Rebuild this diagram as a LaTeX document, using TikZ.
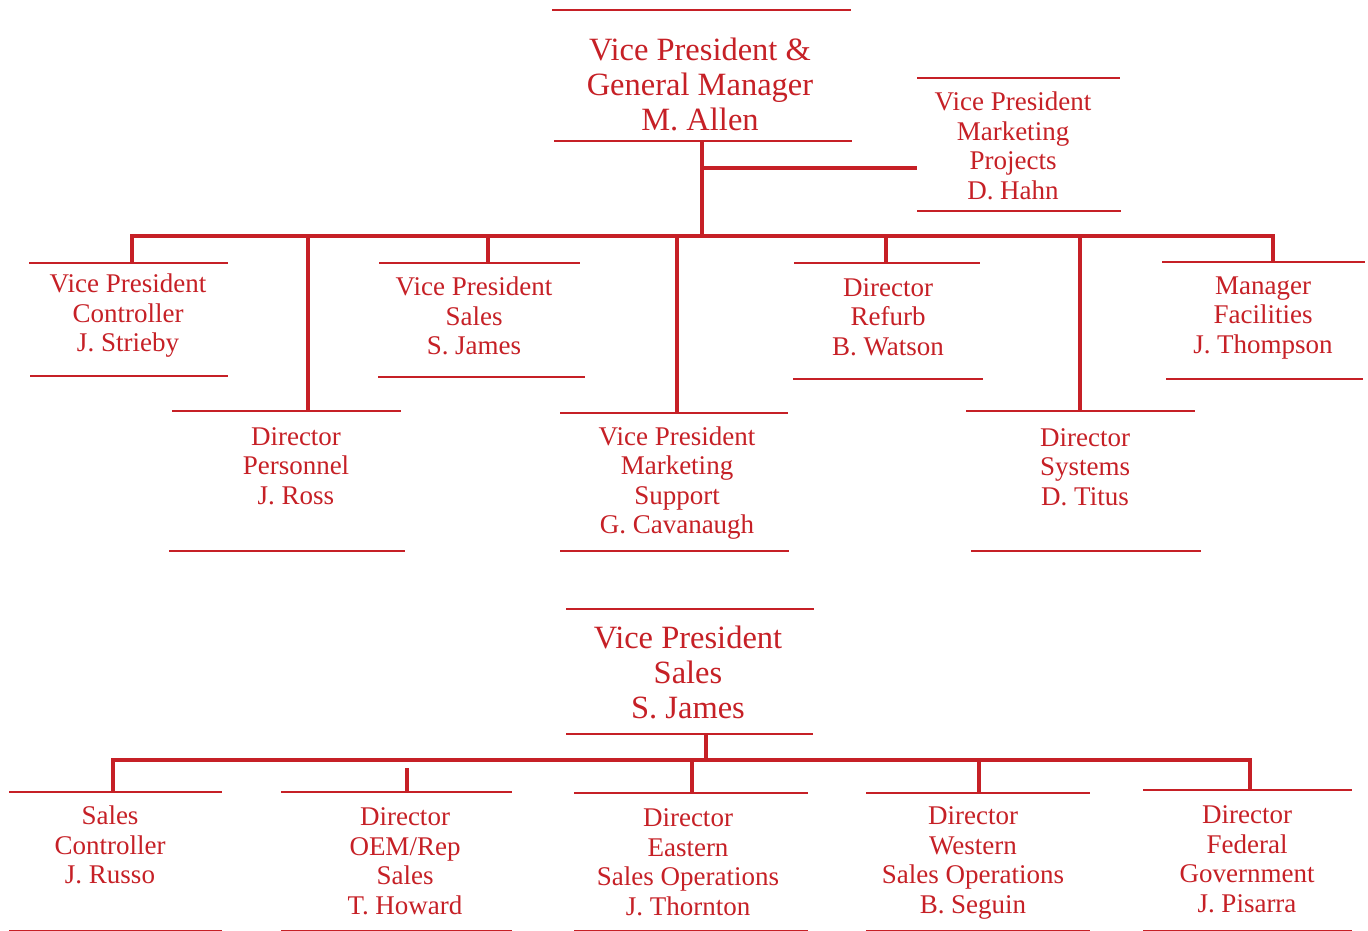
\documentclass[tikz,border=0pt]{standalone}
\usepackage{fontspec}
\setmainfont{Liberation Serif}
\definecolor{inkred}{RGB}{198,32,38}
\begin{document}
\begin{tikzpicture}[x=1pt,y=-1pt,
  rule/.style={draw=inkred, line width=2.6pt},
  conn/.style={draw=inkred, line width=4pt, line join=miter},
  big/.style={align=center, text=inkred, inner sep=0pt, font=\fontsize{32.5}{35}\selectfont},
  lbl/.style={align=center, text=inkred, inner sep=0pt, font=\fontsize{27}{29.5}\selectfont}]
\useasboundingbox (0,0) rectangle (1368,931);
\fill[white] (0,0) rectangle (1368,931);

% ---------- top: General Manager ----------
\draw[rule] (552,10) -- (851,10);
\draw[rule] (554,141) -- (852,141);
\node[big] (gm) at (700,84) {Vice President \&\\General Manager\\M. Allen};
\coordinate (gmB) at (702,141);

% Hahn
\draw[rule] (917,78) -- (1120,78);
\draw[rule] (917,211) -- (1121,211);
\node[lbl] (hahn) at (1013,146) {Vice President\\Marketing\\Projects\\D. Hahn};
\coordinate (hahnL) at (917,168);

% bus
\coordinate (busC) at (702,236);
\coordinate (busL) at (132,236);
\coordinate (busR) at (1273,236);

% row 1 boxes
\draw[rule] (29,263) -- (228,263);  \draw[rule] (30,376) -- (228,376);
\node[lbl] (ctrl) at (128,316) {Vice President\\Controller\\J. Strieby};
\coordinate (ctrlT) at (132,263);

\draw[rule] (172,411) -- (401,411);  \draw[rule] (169,551) -- (405,551);
\node[lbl] (pers) at (296,466) {Director\\Personnel\\J. Ross};
\coordinate (persT) at (308,411);

\draw[rule] (379,263) -- (580,263);  \draw[rule] (378,377) -- (585,377);
\node[lbl] (vps) at (474,316) {Vice President\\Sales\\S. James};
\coordinate (vpsT) at (488,263);

\draw[rule] (560,413) -- (788,413);  \draw[rule] (560,551) -- (789,551);
\node[lbl] (mkt) at (677,483) {Vice President\\Marketing\\Support\\G. Cavanaugh};
\coordinate (mktT) at (677,413);

\draw[rule] (794,263) -- (980,263);  \draw[rule] (793,379) -- (983,379);
\node[lbl] (ref) at (888,317) {Director\\Refurb\\B. Watson};
\coordinate (refT) at (886,263);

\draw[rule] (966,411) -- (1195,411);  \draw[rule] (971,551) -- (1201,551);
\node[lbl] (sys) at (1085,467) {Director\\Systems\\D. Titus};
\coordinate (sysT) at (1080,411);

\draw[rule] (1162,262) -- (1365,262);  \draw[rule] (1166,379) -- (1363,379);
\node[lbl] (fac) at (1263,318) {Manager\\Facilities\\J. Thompson};
\coordinate (facT) at (1273,262);

% connectors top
\draw[conn] (gmB) -- (busC);
\draw[conn] (gmB |- hahnL) -- (hahnL);
\draw[conn] (ctrlT) -- (busL) -- (busR) -- (facT);
\draw[conn] (persT) -- (persT |- busC);
\draw[conn] (vpsT) -- (vpsT |- busC);
\draw[conn] (mktT) -- (mktT |- busC);
\draw[conn] (refT) -- (refT |- busC);
\draw[conn] (sysT) -- (sysT |- busC);

% ---------- bottom: VP Sales ----------
\draw[rule] (566,609) -- (814,609);
\draw[rule] (566,734) -- (813,734);
\node[big] (vps2) at (688,672) {Vice President\\Sales\\S. James};
\coordinate (vps2B) at (706,734);
\coordinate (bus2C) at (706,760);
\coordinate (bus2L) at (113,760);
\coordinate (bus2R) at (1250,760);

\draw[rule] (9,792) -- (222,792);  \draw[rule] (9,931) -- (222,931);
\node[lbl] (sc) at (110,845) {Sales\\Controller\\J. Russo};
\coordinate (scT) at (113,792);

\draw[rule] (281,792) -- (512,792);  \draw[rule] (281,931) -- (512,931);
\node[lbl] (oem) at (405,861) {Director\\OEM/Rep\\Sales\\T. Howard};
\coordinate (oemT) at (407,792);

\draw[rule] (574,793) -- (808,793);  \draw[rule] (574,931) -- (808,931);
\node[lbl] (east) at (688,862) {Director\\Eastern\\Sales Operations\\J. Thornton};
\coordinate (eastT) at (692,793);

\draw[rule] (866,793) -- (1090,793);  \draw[rule] (866,931) -- (1090,931);
\node[lbl] (west) at (973,863) {Director\\Western\\Sales Operations\\B. Seguin};
\coordinate (westT) at (979,793);

\draw[rule] (1143,790) -- (1352,790);  \draw[rule] (1143,931) -- (1352,931);
\node[lbl] (fed) at (1247,859) {Director\\Federal\\Government\\J. Pisarra};
\coordinate (fedT) at (1250,790);

\draw[conn] (vps2B) -- (bus2C);
\draw[conn] (scT) -- (bus2L) -- (bus2R) -- (fedT);
\draw[conn] (oemT) -- ([yshift=-8pt]oemT |- bus2C);
\draw[conn] (eastT) -- (eastT |- bus2C);
\draw[conn] (westT) -- (westT |- bus2C);
\end{tikzpicture}
\end{document}
